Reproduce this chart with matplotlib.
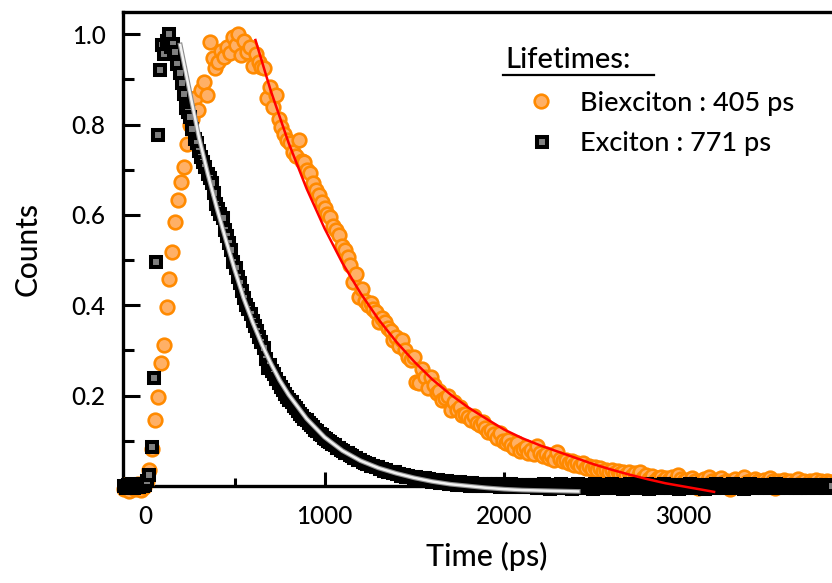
import numpy as np
import matplotlib
matplotlib.use("Agg")
import matplotlib.pyplot as plt
from matplotlib.lines import Line2D
import matplotlib.patheffects as pe

plt.rcParams['font.family'] = ['Lato', 'DejaVu Sans']
plt.rcParams['font.weight'] = 'medium'

# ---- time-resolved PL data (normalised counts), uniform time bins ----
biex_t0, biex_step = -120, 16      # ps
biexciton = [
    -0.006, 0.003, -0.010, 0.001, -0.007, 0.004, -0.009, -0.002, 0.012, 0.035,
    0.082, 0.146, 0.197, 0.272, 0.312, 0.396, 0.458, 0.518, 0.584, 0.632,
    0.673, 0.706, 0.757, 0.800, 0.813, 0.858, 0.832, 0.876, 0.894, 0.865,
    0.983, 0.947, 0.925, 0.939, 0.962, 0.950, 0.972, 0.958, 0.994, 0.975,
    1.000, 0.953, 0.985, 0.960, 0.972, 0.930, 0.957, 0.939, 0.928, 0.924,
    0.858, 0.883, 0.839, 0.865, 0.813, 0.795, 0.780, 0.765, 0.760, 0.740,
    0.730, 0.765, 0.720, 0.717, 0.700, 0.692, 0.670, 0.655, 0.645, 0.629,
    0.615, 0.603, 0.596, 0.575, 0.567, 0.555, 0.532, 0.522, 0.507, 0.489,
    0.452, 0.470, 0.419, 0.435, 0.410, 0.400, 0.405, 0.392, 0.385, 0.363,
    0.371, 0.363, 0.350, 0.342, 0.323, 0.330, 0.310, 0.323, 0.301, 0.286,
    0.279, 0.285, 0.231, 0.227, 0.260, 0.242, 0.216, 0.242, 0.223, 0.205,
    0.210, 0.190, 0.194, 0.200, 0.168, 0.185, 0.168, 0.175, 0.157, 0.160,
    0.152, 0.145, 0.155, 0.140, 0.135, 0.142, 0.128, 0.120, 0.125, 0.115,
    0.106, 0.118, 0.100, 0.095, 0.102, 0.090, 0.085, 0.096, 0.078, 0.082,
    0.086, 0.074, 0.080, 0.070, 0.088, 0.072, 0.066, 0.070, 0.062, 0.068,
    0.058, 0.075, 0.060, 0.055, 0.058, 0.050, 0.055, 0.046, 0.052, 0.045,
    0.050, 0.040, 0.044, 0.038, 0.042, 0.036, 0.040, 0.033, 0.036, 0.030,
    0.035, 0.028, 0.033, 0.026, 0.030, 0.024, 0.030, 0.022, 0.028, 0.020,
    0.030, 0.018, 0.024, 0.016, 0.022, 0.012, 0.018, 0.020, 0.010, 0.018,
    0.014, 0.020, 0.012, 0.024, 0.016, 0.010, 0.014, 0.006, 0.018, 0.010,
    -0.004, 0.012, 0.016, 0.008, 0.020, 0.010, 0.004, 0.014, 0.018, 0.008,
    0.012, -0.006, 0.010, 0.016, 0.006, 0.014, 0.020, 0.008, 0.012, 0.004,
    0.016, 0.010, 0.006, 0.014, 0.008, 0.018, 0.010, -0.004, 0.012, 0.006,
    0.014, 0.008, 0.010, 0.004, 0.012, 0.016, 0.006, 0.010, 0.002, 0.012,
    0.008, 0.014, 0.004, 0.010, 0.006, 0.012, 0.008, 0.004,
]

exc_t0, exc_step = -120, 12        # ps
exciton = [
    0.001, -0.004, 0.003, -0.002, 0.004, -0.005, 0.002, -0.003, 0.004, -0.001,
    0.002, 0.010, 0.024, 0.087, 0.238, 0.495, 0.777, 0.920, 0.976, 0.955,
    0.985, 1.000, 0.972, 0.978, 0.961, 0.935, 0.913, 0.891, 0.868, 0.836,
    0.827, 0.817, 0.790, 0.768, 0.758, 0.742, 0.728, 0.716, 0.706, 0.690,
    0.682, 0.670, 0.648, 0.625, 0.614, 0.603, 0.592, 0.566, 0.553, 0.538,
    0.522, 0.496, 0.482, 0.462, 0.450, 0.432, 0.415, 0.401, 0.391, 0.380,
    0.366, 0.355, 0.344, 0.330, 0.318, 0.306, 0.282, 0.262, 0.268, 0.255,
    0.247, 0.236, 0.229, 0.219, 0.212, 0.204, 0.198, 0.190, 0.186, 0.178,
    0.172, 0.166, 0.160, 0.155, 0.149, 0.146, 0.139, 0.135, 0.130, 0.125,
    0.121, 0.115, 0.112, 0.107, 0.104, 0.099, 0.097, 0.092, 0.090, 0.085,
    0.083, 0.079, 0.077, 0.073, 0.072, 0.068, 0.066, 0.063, 0.061, 0.058,
    0.057, 0.053, 0.052, 0.049, 0.048, 0.045, 0.045, 0.041, 0.041, 0.038,
    0.038, 0.034, 0.035, 0.031, 0.032, 0.028, 0.030, 0.026, 0.027, 0.023,
    0.025, 0.021, 0.023, 0.019, 0.021, 0.017, 0.020, 0.014, 0.018, 0.012,
    0.017, 0.011, 0.015, 0.009, 0.014, 0.008, 0.013, 0.007, 0.011, 0.006,
    0.010, 0.005, 0.009, 0.004, 0.008, 0.003, 0.008, 0.002, 0.007, 0.002,
    0.006, 0.001, 0.006, 0.000, 0.005, 0.001, 0.005, -0.001, 0.004, 0.000,
    0.005, -0.001, 0.004, 0.000, 0.004, -0.002, 0.004, -0.001, 0.003, -0.002,
    0.004, -0.002, 0.003, -0.001, 0.003, -0.002, 0.003, -0.003, 0.002, -0.002,
    0.003, 0.003, -0.005, 0.002, -0.004, 0.004, -0.003, 0.001, -0.006, 0.003,
    -0.002, 0.002, -0.005, 0.004, -0.003, 0.001, -0.004, 0.003, -0.006, 0.002,
    -0.002, 0.004, -0.004, 0.001, -0.005, 0.003, -0.003, 0.002, -0.006, 0.004,
    -0.002, 0.001, -0.005, 0.003, -0.004, 0.002, -0.003, 0.004, -0.005, 0.001,
    -0.003, 0.003, -0.006, 0.002, -0.002, 0.004, -0.004, 0.001, -0.005, 0.003,
    -0.003, 0.002, -0.004, 0.004, -0.006, 0.001, -0.002, 0.003, -0.005, 0.002,
    -0.004, 0.004, -0.003, 0.001, -0.005, 0.003, -0.002, 0.002, -0.006, 0.003,
    -0.003, 0.001, -0.004, 0.004, -0.005, 0.002, -0.002, 0.003, -0.004, 0.001,
    -0.006, 0.003, -0.003, 0.002, -0.004, 0.004, -0.002, 0.001, -0.005, 0.003,
    -0.003, 0.002, -0.005, 0.004, -0.004, 0.001, -0.002, 0.003, -0.006, 0.002,
    -0.003, 0.004, -0.004, 0.001, -0.005, 0.003, -0.002, 0.002, -0.004, 0.003,
    -0.005, 0.001, -0.003, 0.004, -0.004, 0.002, -0.002, 0.003, -0.005, 0.001,
    -0.003, 0.002, -0.004, 0.003, -0.005, 0.002, -0.002, 0.003, -0.004, 0.001,
    -0.003, 0.002, -0.004, 0.003, -0.002, 0.001, -0.004, 0.002, -0.003, 0.001,
]

# ---- mono-exponential fits (sampled curves) ----
biex_fit_t = [615, 700, 800, 900, 1000, 1100, 1200, 1300, 1400, 1500, 1600,
              1700, 1800, 1900, 2000, 2100, 2200, 2300, 2400, 2500, 2600,
              2700, 2800, 2900, 3000, 3100, 3170]
biex_fit_y = [0.987, 0.875, 0.759, 0.658, 0.570, 0.493, 0.427, 0.369, 0.319,
              0.275, 0.236, 0.203, 0.174, 0.149, 0.125, 0.106, 0.090, 0.076,
              0.062, 0.048, 0.036, 0.025, 0.015, 0.006, -0.001, -0.008, -0.013]

exc_fit_t = [196, 250, 300, 350, 400, 450, 500, 550, 600, 650, 700, 750, 800,
             900, 1000, 1100, 1200, 1300, 1400, 1500, 1600, 1700, 1800, 1900,
             2000, 2100, 2200, 2300, 2413]
exc_fit_y = [0.976, 0.870, 0.772, 0.690, 0.615, 0.545, 0.478, 0.415, 0.362,
             0.314, 0.272, 0.234, 0.202, 0.149, 0.108, 0.078, 0.056, 0.040,
             0.028, 0.018, 0.010, 0.004, 0.000, -0.004, -0.007, -0.009,
             -0.010, -0.011, -0.012]

labels = ["Biexciton : 405 ps", "Exciton : 771 ps"]
legend_title = "Lifetimes:"

orange_edge = "#ff8a00"
orange_face = "#ffb066"
circle_style = dict(marker="o", ms=9.8, mfc=orange_face, mec=orange_edge, mew=1.9)
square_style = dict(marker="s", ms=7.4, mfc="#808080", mec="black", mew=2.9)

W, H = 832, 583
fig = plt.figure(figsize=(W / 100, H / 100), dpi=100)
ax = fig.add_axes([123 / W, 97 / H, 709 / W, 474 / H])

t_biex = biex_t0 + biex_step * np.arange(len(biexciton))
t_exc = exc_t0 + exc_step * np.arange(len(exciton))

ax.plot(t_biex, biexciton, ls="none", clip_on=False, zorder=3, **circle_style)
ax.plot(t_exc, exciton, ls="none", clip_on=False, zorder=4, **square_style)
ax.plot(exc_fit_t, exc_fit_y, color="#f2f2f2", lw=1.8, clip_on=False, zorder=5,
        path_effects=[pe.Stroke(linewidth=3.4, foreground="#8c8c8c"), pe.Normal()])
ax.plot(biex_fit_t, biex_fit_y, color="#ff0000", lw=1.8, clip_on=False, zorder=6)

ax.set_xlim(-123, 3827)
ax.set_ylim(0, 1.049)

ax.set_xticks([0, 1000, 2000, 3000])
ax.set_xticks([500, 1500, 2500, 3500], minor=True)
ax.set_yticks([0.2, 0.4, 0.6, 0.8, 1.0])
ax.set_yticklabels(["0.2", "0.4", "0.6", "0.8", "1.0"])
ax.set_yticks([0.1, 0.3, 0.5, 0.7, 0.9], minor=True)

ax.tick_params(axis="both", which="both", direction="in", labelsize=17.5,
               width=2.2, top=False, right=False)
ax.tick_params(axis="y", which="major", length=12, pad=12.5)
ax.tick_params(axis="y", which="minor", length=8)
ax.tick_params(axis="x", which="major", length=10, pad=13.5)
ax.tick_params(axis="x", which="minor", length=6)

for side in ("left", "top", "bottom"):
    ax.spines[side].set_linewidth(2.4)
ax.spines["right"].set_visible(False)

fig.text(28 / W, 1 - 249 / H, "Counts", rotation=90, ha="center", va="center",
         fontsize=21.5)
fig.text(487 / W, 1 - 556 / H, "Time (ps)", ha="center", va="center",
         fontsize=22)

# legend block
fig.text(505 / W, 1 - 68 / H, legend_title, ha="left", va="baseline", fontsize=21)
fig.add_artist(Line2D([503 / W, 654 / W], [1 - 74.5 / H] * 2, color="black",
                      lw=1.6, transform=fig.transFigure))
fig.add_artist(Line2D([541 / W], [1 - 100.5 / H], ls="none",
                      transform=fig.transFigure, **circle_style))
fig.add_artist(Line2D([542 / W], [1 - 142 / H], ls="none",
                      transform=fig.transFigure, **square_style))
fig.text(580 / W, 1 - 110.5 / H, labels[0], ha="left", va="baseline", fontsize=19.5)
fig.text(580 / W, 1 - 151.5 / H, labels[1], ha="left", va="baseline", fontsize=19.5)

fig.savefig("out.png", dpi=100)
